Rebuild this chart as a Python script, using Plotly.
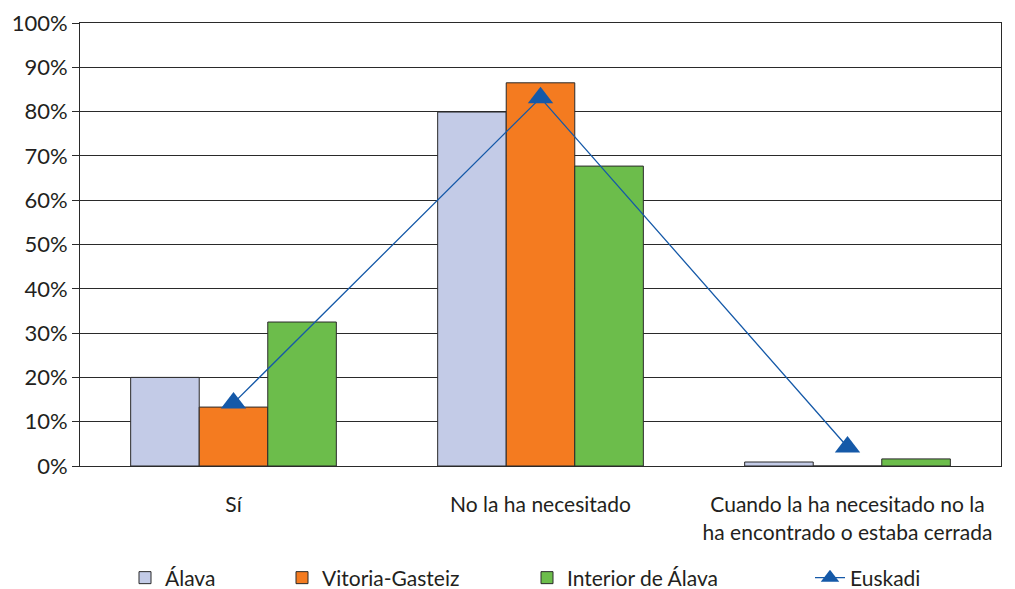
import plotly.graph_objects as go

categories = ["Sí", "No la ha necesitado", "Cuando la ha necesitado no la<br>ha encontrado o estaba cerrada"]
alava = [20.0, 79.9, 0.9]
vitoria = [13.3, 86.5, 0.0]
interior = [32.5, 67.7, 1.6]
euskadi = [14.2, 83.1, 4.3]
y_ticks = [0, 10, 20, 30, 40, 50, 60, 70, 80, 90, 100]
y_labels = [f"{v}%" for v in y_ticks]

FONT = "Lato, 'Open Sans', sans-serif"
line_col = "#2a2a2a"
W, H = 1015, 589
ML, MR, MT, MB = 80, 14, 23, 123


def cx(x):
    return x / W


def cy(y):
    return (H - y) / H


fig = go.Figure()
fig.add_trace(go.Bar(name="Álava", x=categories, y=alava, legend="legend",
                     marker=dict(color="#c3cbe7", line=dict(color=line_col, width=1))))
fig.add_trace(go.Bar(name="Vitoria-Gasteiz", x=categories, y=vitoria, legend="legend2",
                     marker=dict(color="#f47b20", line=dict(color=line_col, width=1))))
fig.add_trace(go.Bar(name="Interior de Álava", x=categories, y=interior, legend="legend3",
                     marker=dict(color="#6cbd4b", line=dict(color=line_col, width=1))))
fig.add_trace(go.Scatter(name="Euskadi", x=categories, y=euskadi, mode="lines+markers",
                         legend="legend4",
                         line=dict(color="#1559a8", width=1.3),
                         marker=dict(symbol="triangle-up", size=22, color="#1559a8")))

leg_common = dict(orientation="h", yanchor="middle", xanchor="left",
                  xref="container", yref="container",
                  font=dict(size=21), bgcolor="rgba(0,0,0,0)")
ly = cy(578)

fig.update_layout(
    width=W, height=H,
    margin=dict(l=ML, r=MR, t=MT, b=MB, autoexpand=False),
    paper_bgcolor="white", plot_bgcolor="white",
    barmode="group", bargap=0.33, bargroupgap=0,
    font=dict(family=FONT, size=21, color="#231f20"),
    showlegend=True,
    legend=dict(x=cx(125), y=ly, **leg_common),
    legend2=dict(x=cx(282), y=ly, **leg_common),
    legend3=dict(x=cx(527), y=ly, **leg_common),
    legend4=dict(x=cx(810), y=ly, **leg_common),
    xaxis=dict(showline=True, linecolor=line_col, linewidth=1, mirror=True,
               ticks="", showgrid=False, tickfont=dict(size=21),
               automargin=False, ticklabelstandoff=20),
    yaxis=dict(range=[0, 100], tickvals=y_ticks, ticktext=y_labels,
               showline=True, linecolor=line_col, linewidth=1, mirror=True,
               ticks="outside", ticklen=7, tickcolor=line_col,
               showgrid=True, gridcolor=line_col, gridwidth=1,
               tickfont=dict(size=22), zeroline=False, automargin=False),
)

fig.write_html("out.html",
               config={"displayModeBar": False},
               post_script="document.body.style.margin='0';document.body.style.overflow='hidden';")
